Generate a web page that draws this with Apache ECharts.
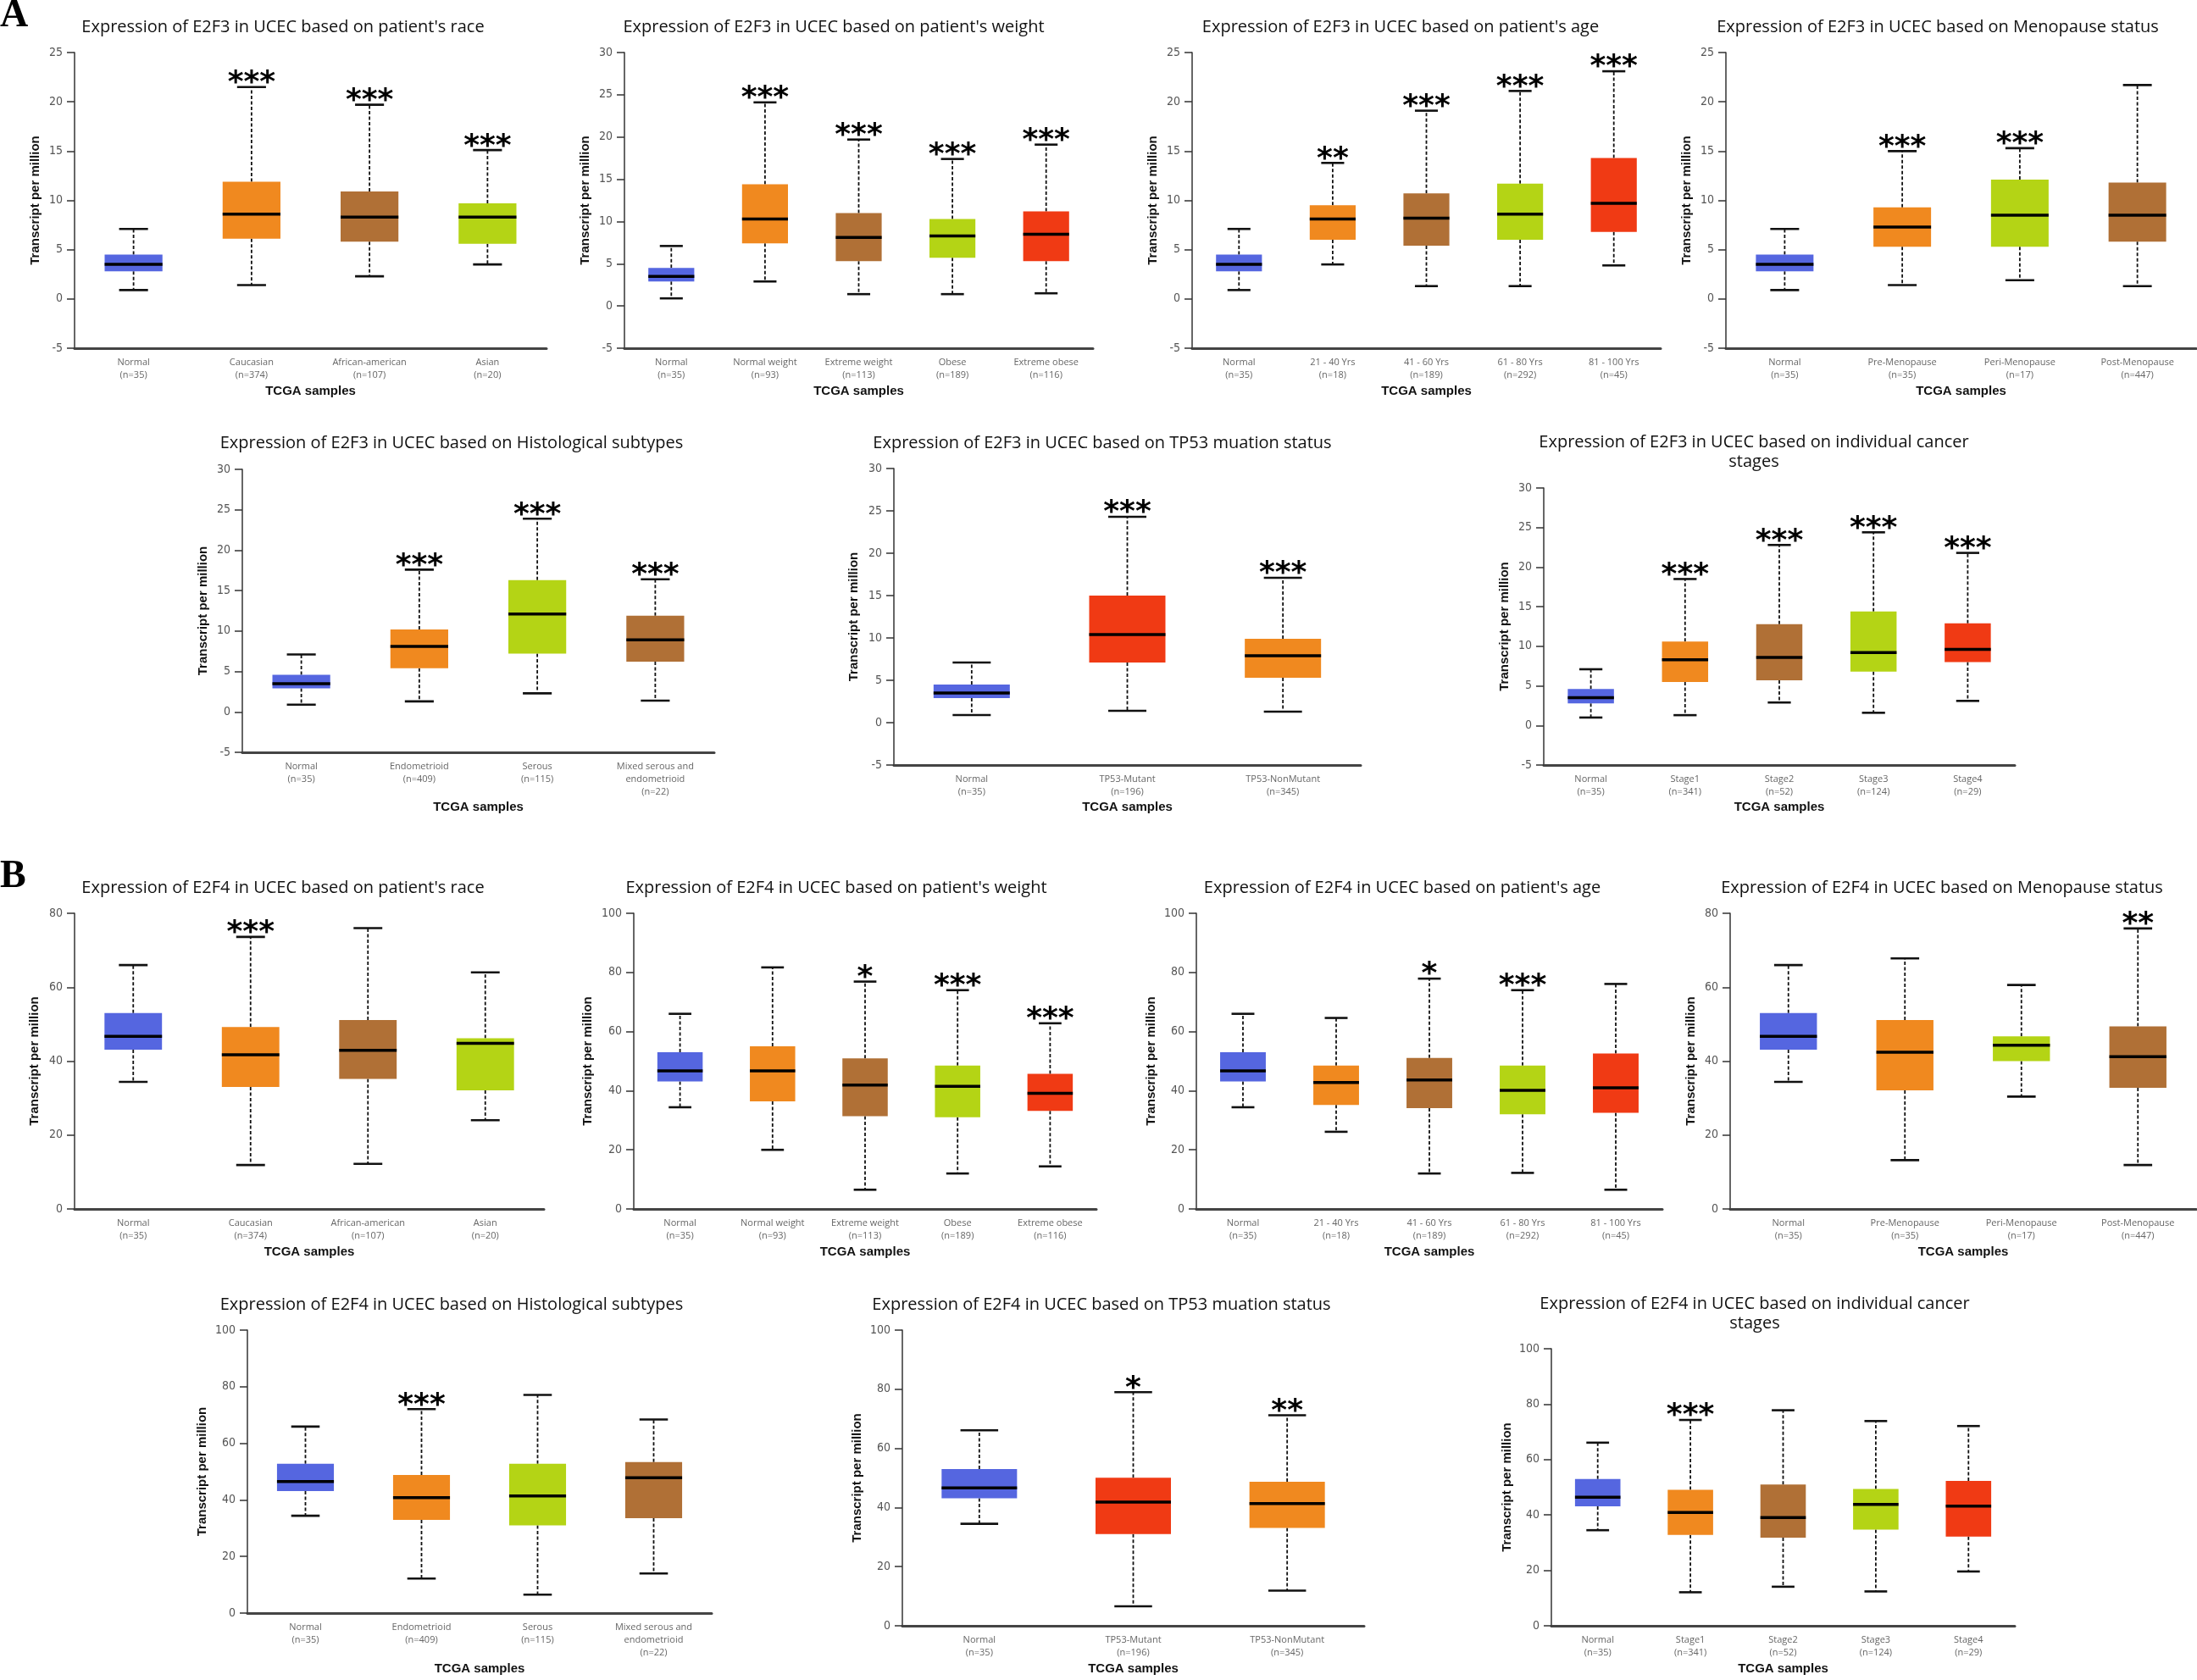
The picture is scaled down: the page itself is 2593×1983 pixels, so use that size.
<!DOCTYPE html>
<html>
<head>
<meta charset="utf-8">
<title>E2F3 / E2F4 expression in UCEC</title>
<script src="https://cdn.jsdelivr.net/npm/echarts@6/dist/echarts.min.js"></script>
<style>
    html, body { margin: 0; padding: 0; background: #fff; }
    #chart { width: 2593px; height: 1983px; }
</style>
</head>
<body>
<div id="chart"></div>
<script>
// ---- categories (x axis tick labels) ----
var raceCats = ['Normal\n(n=35)', 'Caucasian\n(n=374)', 'African-american\n(n=107)', 'Asian\n(n=20)'];
var weightCats = ['Normal\n(n=35)', 'Normal weight\n(n=93)', 'Extreme weight\n(n=113)', 'Obese\n(n=189)', 'Extreme obese\n(n=116)'];
var ageCats = ['Normal\n(n=35)', '21 - 40 Yrs\n(n=18)', '41 - 60 Yrs\n(n=189)', '61 - 80 Yrs\n(n=292)', '81 - 100 Yrs\n(n=45)'];
var menoCats = ['Normal\n(n=35)', 'Pre-Menopause\n(n=35)', 'Peri-Menopause\n(n=17)', 'Post-Menopause\n(n=447)'];
var histCats = ['Normal\n(n=35)', 'Endometrioid\n(n=409)', 'Serous\n(n=115)', 'Mixed serous and\nendometrioid\n(n=22)'];
var tp53Cats = ['Normal\n(n=35)', 'TP53-Mutant\n(n=196)', 'TP53-NonMutant\n(n=345)'];
var stageCats = ['Normal\n(n=35)', 'Stage1\n(n=341)', 'Stage2\n(n=52)', 'Stage3\n(n=124)', 'Stage4\n(n=29)'];

// ---- box values: [min, Q1, median, Q3, max] ----
var e2f3Race = [[0.9, 2.8, 3.5, 4.5, 7.1], [1.4, 6.1, 8.6, 11.9, 21.5], [2.3, 5.8, 8.3, 10.9, 19.7], [3.5, 5.6, 8.3, 9.7, 15.1]];
var e2f3Weight = [[0.9, 2.9, 3.5, 4.5, 7.1], [2.9, 7.4, 10.3, 14.4, 24.1], [1.4, 5.3, 8.1, 11.0, 19.7], [1.4, 5.7, 8.3, 10.3, 17.4], [1.5, 5.3, 8.5, 11.2, 19.1]];
var e2f3Age = [[0.9, 2.8, 3.5, 4.5, 7.1], [3.5, 6.0, 8.1, 9.5, 13.8], [1.3, 5.4, 8.2, 10.7, 19.1], [1.3, 6.0, 8.6, 11.7, 21.1], [3.4, 6.8, 9.7, 14.3, 23.1]];
var e2f3Meno = [[0.9, 2.8, 3.5, 4.5, 7.1], [1.4, 5.3, 7.3, 9.3, 15.0], [1.9, 5.3, 8.5, 12.1, 15.3], [1.3, 5.8, 8.5, 11.8, 21.7]];
var e2f3Hist = [[0.9, 2.9, 3.5, 4.6, 7.1], [1.3, 5.4, 8.1, 10.2, 17.6], [2.3, 7.2, 12.1, 16.3, 23.9], [1.4, 6.2, 8.9, 11.9, 16.4]];
var e2f3Tp53 = [[0.9, 2.9, 3.5, 4.5, 7.1], [1.4, 7.1, 10.4, 15.0, 24.3], [1.3, 5.3, 7.9, 9.9, 17.1]];
var e2f3Stage = [[1.0, 2.8, 3.5, 4.6, 7.1], [1.3, 5.5, 8.3, 10.6, 18.5], [2.9, 5.7, 8.6, 12.8, 22.8], [1.6, 6.8, 9.2, 14.4, 24.4], [3.1, 8.0, 9.6, 12.9, 21.8]];

var e2f4Race = [[34.4, 43.1, 46.7, 53.0, 66.0], [11.9, 33.0, 41.7, 49.2, 73.6], [12.2, 35.2, 42.9, 51.1, 76.0], [24.0, 32.1, 44.8, 46.2, 64.0]];
var e2f4Weight = [[34.4, 43.1, 46.7, 53.0, 66.0], [20.0, 36.4, 46.7, 55.0, 81.7], [6.5, 31.4, 41.9, 50.9, 76.9], [12.0, 31.0, 41.5, 48.5, 74.0], [14.4, 33.2, 39.1, 45.7, 62.8]];
var e2f4Age = [[34.4, 43.1, 46.7, 53.0, 66.0], [26.1, 35.2, 42.8, 48.5, 64.6], [12.0, 34.1, 43.6, 51.1, 77.9], [12.2, 32.0, 40.1, 48.5, 74.0], [6.5, 32.5, 41.0, 52.6, 76.1]];
var e2f4Meno = [[34.4, 43.1, 46.7, 53.0, 66.0], [13.2, 32.1, 42.4, 51.1, 67.8], [30.4, 40.0, 44.3, 46.7, 60.6], [11.9, 32.8, 41.2, 49.4, 75.9]];
var e2f4Hist = [[34.4, 43.1, 46.5, 52.8, 65.9], [12.2, 32.9, 40.8, 48.8, 72.1], [6.5, 31.0, 41.4, 52.8, 77.1], [14.0, 33.5, 47.8, 53.4, 68.4]];
var e2f4Tp53 = [[34.5, 43.1, 46.6, 53.0, 66.1], [6.6, 31.0, 41.8, 50.1, 79.0], [11.9, 33.1, 41.3, 48.7, 71.2]];
var e2f4Stage = [[34.5, 43.1, 46.4, 53.0, 66.1], [12.1, 32.8, 40.9, 49.1, 74.3], [14.1, 31.8, 39.1, 51.0, 77.8], [12.4, 34.7, 43.8, 49.4, 73.9], [19.6, 32.2, 43.2, 52.3, 72.1]];

// ---- significance marks ----
var e2f3RaceStars = ['', '***', '***', '***'];
var e2f3WeightStars = ['', '***', '***', '***', '***'];
var e2f3AgeStars = ['', '**', '***', '***', '***'];
var e2f3MenoStars = ['', '***', '***', ''];
var e2f3HistStars = ['', '***', '***', '***'];
var e2f3Tp53Stars = ['', '***', '***'];
var e2f3StageStars = ['', '***', '***', '***', '***'];

var e2f4RaceStars = ['', '***', '', ''];
var e2f4WeightStars = ['', '', '*', '***', '***'];
var e2f4AgeStars = ['', '', '*', '***', ''];
var e2f4MenoStars = ['', '', '', '**'];
var e2f4HistStars = ['', '***', '', ''];
var e2f4Tp53Stars = ['', '*', '**'];
var e2f4StageStars = ['', '***', '', '', ''];

// ---- y axis extents [min, max, interval] ----
var e2f3Range25 = [-5, 25, 5];
var e2f3Range30 = [-5, 30, 5];
var e2f4Range80 = [0, 80, 20];
var e2f4Range100 = [0, 100, 20];


var BLUE = '#5566e0', ORANGE = '#f0891f', BROWN = '#b07036', GREEN = '#b4d415', RED = '#f03a14';
var TICK_FONT = '"Liberation Sans Narrow", "DejaVu Sans Condensed", "Roboto", sans-serif';
var LABEL_FONT = '"Open Sans", "Noto Sans", sans-serif';

function sub(gene, what) {
    return 'Expression of ' + gene + ' in UCEC based on ' + what;
}

// layout of the 14 panels (pixels)
var panels = [
    { box: e2f3Race, stars: e2f3RaceStars, cats: raceCats, range: e2f3Range25, colors: [BLUE, ORANGE, BROWN, GREEN],
        title: sub('E2F3', "patient's race"), l: 88, r: 645, t: 62, b: 411, tx: 334, ty: 32, xGap: 43, yGap: 39 },
    { box: e2f3Weight, stars: e2f3WeightStars, cats: weightCats, range: e2f3Range30, colors: [BLUE, ORANGE, BROWN, GREEN, RED],
        title: sub('E2F3', "patient's weight"), l: 737, r: 1290, t: 62, b: 411, tx: 984, ty: 32, xGap: 43, yGap: 39 },
    { box: e2f3Age, stars: e2f3AgeStars, cats: ageCats, range: e2f3Range25, colors: [BLUE, ORANGE, BROWN, GREEN, RED],
        title: sub('E2F3', "patient's age"), l: 1407, r: 1960, t: 62, b: 411, tx: 1653, ty: 32, xGap: 43, yGap: 39 },
    { box: e2f3Meno, stars: e2f3MenoStars, cats: menoCats, range: e2f3Range25, colors: [BLUE, ORANGE, GREEN, BROWN],
        title: sub('E2F3', 'Menopause status'), l: 2037, r: 2592, t: 62, b: 411, tx: 2287, ty: 32, xGap: 43, yGap: 39 },
    { box: e2f3Hist, stars: e2f3HistStars, cats: histCats, range: e2f3Range30, colors: [BLUE, ORANGE, GREEN, BROWN],
        title: sub('E2F3', 'Histological subtypes'), l: 286, r: 843, t: 554, b: 888, tx: 533, ty: 523, xGap: 57, yGap: 39 },
    { box: e2f3Tp53, stars: e2f3Tp53Stars, cats: tp53Cats, range: e2f3Range30, colors: [BLUE, RED, ORANGE],
        title: sub('E2F3', 'TP53 muation status'), l: 1055, r: 1606, t: 553, b: 903, tx: 1301, ty: 523, xGap: 42, yGap: 40 },
    { box: e2f3Stage, stars: e2f3StageStars, cats: stageCats, range: e2f3Range30, colors: [BLUE, ORANGE, BROWN, GREEN, RED],
        title: sub('E2F3', 'individual cancer\nstages'), l: 1822, r: 2378, t: 576, b: 903, tx: 2070, ty: 534, xGap: 42, yGap: 39 },

    { box: e2f4Race, stars: e2f4RaceStars, cats: raceCats, range: e2f4Range80, colors: [BLUE, ORANGE, BROWN, GREEN],
        title: sub('E2F4', "patient's race"), l: 88, r: 642, t: 1078, b: 1427, tx: 334, ty: 1048, xGap: 43, yGap: 40 },
    { box: e2f4Weight, stars: e2f4WeightStars, cats: weightCats, range: e2f4Range100, colors: [BLUE, ORANGE, BROWN, GREEN, RED],
        title: sub('E2F4', "patient's weight"), l: 748, r: 1294, t: 1078, b: 1427, tx: 987, ty: 1048, xGap: 43, yGap: 47 },
    { box: e2f4Age, stars: e2f4AgeStars, cats: ageCats, range: e2f4Range100, colors: [BLUE, ORANGE, BROWN, GREEN, RED],
        title: sub('E2F4', "patient's age"), l: 1412, r: 1962, t: 1078, b: 1427, tx: 1655, ty: 1048, xGap: 43, yGap: 46 },
    { box: e2f4Meno, stars: e2f4MenoStars, cats: menoCats, range: e2f4Range80, colors: [BLUE, ORANGE, GREEN, BROWN],
        title: sub('E2F4', 'Menopause status'), l: 2042, r: 2592, t: 1078, b: 1427, tx: 2292, ty: 1048, xGap: 43, yGap: 39 },
    { box: e2f4Hist, stars: e2f4HistStars, cats: histCats, range: e2f4Range100, colors: [BLUE, ORANGE, GREEN, BROWN],
        title: sub('E2F4', 'Histological subtypes'), l: 292, r: 840, t: 1570, b: 1904, tx: 533, ty: 1540, xGap: 58, yGap: 46 },
    { box: e2f4Tp53, stars: e2f4Tp53Stars, cats: tp53Cats, range: e2f4Range100, colors: [BLUE, RED, ORANGE],
        title: sub('E2F4', 'TP53 muation status'), l: 1065, r: 1610, t: 1570, b: 1919, tx: 1300, ty: 1540, xGap: 43, yGap: 46 },
    { box: e2f4Stage, stars: e2f4StageStars, cats: stageCats, range: e2f4Range100, colors: [BLUE, ORANGE, BROWN, GREEN, RED],
        title: sub('E2F4', 'individual cancer\nstages'), l: 1831, r: 2378, t: 1592, b: 1919, tx: 2071, ty: 1551, xGap: 43, yGap: 45 }
];


function makeRender(p) {
    return function (params, api) {
        var i = api.value(0);
        var lo = api.coord([i, api.value(1)]);
        var q1 = api.coord([i, api.value(2)]);
        var md = api.coord([i, api.value(3)]);
        var q3 = api.coord([i, api.value(4)]);
        var hi = api.coord([i, api.value(5)]);
        var band = api.size([1, 0])[0];
        var w = band * 0.49;
        var x = md[0];
        var dash = { stroke: '#111', lineWidth: 1.8, lineDash: [4, 2.5] };
        var cap = { stroke: '#111', lineWidth: 2.6 };
        var children = [
            { type: 'line', shape: { x1: x, y1: q3[1], x2: x, y2: hi[1] }, style: dash },
            { type: 'line', shape: { x1: x, y1: q1[1], x2: x, y2: lo[1] }, style: dash },
            { type: 'line', shape: { x1: x - w / 4, y1: hi[1], x2: x + w / 4, y2: hi[1] }, style: cap },
            { type: 'line', shape: { x1: x - w / 4, y1: lo[1], x2: x + w / 4, y2: lo[1] }, style: cap },
            { type: 'rect', shape: { x: x - w / 2, y: q3[1], width: w, height: q1[1] - q3[1] },
                style: { fill: p.colors[params.dataIndex] } },
            { type: 'line', shape: { x1: x - w / 2, y1: md[1], x2: x + w / 2, y2: md[1] },
                style: { stroke: '#000', lineWidth: 3.5 } }
        ];
        var s = p.stars[params.dataIndex];
        if (s) {
            children.push({
                type: 'text',
                x: x,
                y: hi[1] + 14,
                style: {
                    text: s,
                    align: 'center',
                    verticalAlign: 'bottom',
                    font: 'bold 36px "DejaVu Sans", sans-serif',
                    fill: '#000'
                }
            });
        }
        return { type: 'group', children: children };
    };
}


var grids = [], xAxes = [], yAxes = [], series = [], graphics = [];

panels.forEach(function (p, k) {
    grids.push({ left: p.l, top: p.t, width: p.r - p.l, height: p.b - p.t, containLabel: false, outerBoundsMode: 'none' });

    xAxes.push({
        gridIndex: k,
        type: 'category',
        data: p.cats,
        axisLine: { onZero: false, lineStyle: { color: '#444', width: 3 } },
        axisTick: { show: false },
        axisLabel: { interval: 0, color: '#666', fontSize: 11, lineHeight: 15, margin: 9, fontFamily: LABEL_FONT },
        splitLine: { show: false },
        name: 'TCGA samples',
        nameLocation: 'middle',
        nameGap: p.xGap,
        nameTextStyle: { fontSize: 15, fontWeight: 'bold', color: '#111', fontFamily: '"Liberation Sans", Arial, sans-serif' }
    });

    yAxes.push({
        gridIndex: k,
        type: 'value',
        min: p.range[0],
        max: p.range[1],
        interval: p.range[2],
        axisLine: { show: true, lineStyle: { color: '#333', width: 1.5 } },
        axisTick: { show: true, length: 9, lineStyle: { color: '#333', width: 1.5 } },
        splitLine: { show: false },
        axisLabel: { color: '#555', fontSize: 14, margin: 14, fontFamily: TICK_FONT },
        name: 'Transcript per million',
        nameLocation: 'middle',
        nameGap: p.yGap,
        nameTextStyle: { fontSize: 15, fontWeight: 'bold', color: '#111', fontFamily: '"Liberation Sans", Arial, sans-serif' }
    });

    series.push({
        type: 'custom',
        xAxisIndex: k,
        yAxisIndex: k,
        clip: false,
        renderItem: makeRender(p),
        encode: { x: 0, y: [1, 2, 3, 4, 5] },
        data: p.box.map(function (v, i) { return [i].concat(v); })
    });

    graphics.push({
        type: 'text',
        x: p.tx,
        y: p.ty,
        style: {
            text: p.title,
            align: 'center',
            verticalAlign: 'middle',
            fontSize: 20,
            lineHeight: 23,
            fontFamily: LABEL_FONT,
            fill: '#111'
        }
    });
});

graphics.push({ type: 'text', x: 0, y: -4, style: { text: 'A', fontSize: 46, fontWeight: 'bold', fontFamily: '"Liberation Serif", serif', fill: '#000' } });
graphics.push({ type: 'text', x: 0, y: 1012, style: { text: 'B', fontSize: 46, fontWeight: 'bold', fontFamily: '"Liberation Serif", serif', fill: '#000' } });

var chart = echarts.init(document.getElementById('chart'), null, { renderer: 'canvas' });

chart.setOption({
    backgroundColor: '#fff',
    animation: false,
    grid: grids,
    xAxis: xAxes,
    yAxis: yAxes,
    series: series,
    graphic: graphics
});
</script>
</body>
</html>
